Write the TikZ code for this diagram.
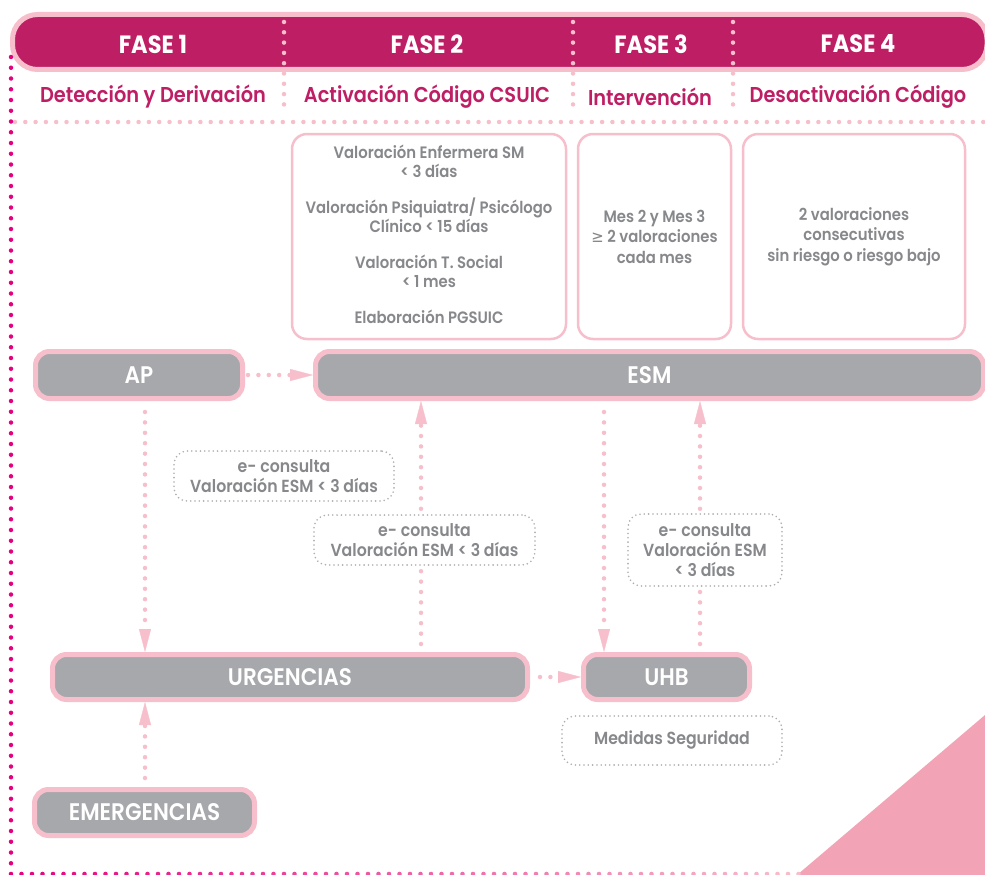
\documentclass[tikz,border=0pt]{standalone}
\usepackage{fontspec}
\setmainfont{Poppins}[UprightFont=* SemiBold, BoldFont=* Bold, FakeStretch=0.9]
\newfontfamily\symfont{DejaVu Sans}[FakeStretch=0.9]
\usetikzlibrary{arrows.meta,calc}

\definecolor{barmag}{HTML}{BE1E64}
\definecolor{rimpink}{HTML}{F6BFCB}
\definecolor{hotmag}{HTML}{E5007E}
\definecolor{bargray}{HTML}{A7A8AC}
\definecolor{txtgray}{HTML}{87888B}
\definecolor{dotgray}{HTML}{AEAEB0}
\definecolor{cornerpink}{HTML}{F2A3B5}

\tikzset{
  graybar/.style={rectangle, rounded corners=14pt, fill=bargray, draw=rimpink,
    line width=5pt, inner sep=0pt, text=white,
    font=\fontsize{24}{24}\selectfont},
  infobox/.style={rectangle, rounded corners=15pt, draw=rimpink, fill=white,
    line width=2.5pt, inner sep=0pt, text=txtgray, align=center,
    font=\fontsize{16.5}{18.5}\selectfont},
  notebox/.style={rectangle, rounded corners=13pt, draw=dotgray, fill=white,
    line width=1.8pt, line cap=round, dash pattern=on 0pt off 4.3pt,
    inner sep=0pt, text=txtgray, align=center,
    font=\fontsize{17.5}{20}\selectfont},
  phase/.style={text=white, font=\bfseries\fontsize{25}{25}\selectfont},
  subtitle/.style={text=barmag, font=\fontsize{21.5}{21.5}\selectfont},
  flow/.style={draw=rimpink, line width=4.5pt, line cap=round,
    dash pattern=on 0pt off 10.4pt,
    -{Triangle[length=23pt,width=12pt,line width=0.3pt]}},
  pinkdots/.style={draw=rimpink, line width=4.5pt, line cap=round,
    dash pattern=on 0pt off 10.3pt},
}

\begin{document}
\begin{tikzpicture}[x=1pt,y=-1pt]
\useasboundingbox (0,0) rectangle (985,875);

% corner wedge
\fill[cornerpink] (797,875) -- (985,715) -- (985,875) -- cycle;

% header band
\draw[draw=rimpink, fill=barmag, line width=5pt, rounded corners=25pt]
  (12.5,14.5) rectangle (987,69.5);

% column separators and rule under the titles
\foreach \sx in {284,573,733}
  \draw[pinkdots] (\sx,22) -- (\sx,113);
\draw[pinkdots] (15,122) -- (985,122);

% outer frame dots
\draw[draw=hotmag, line width=4.5pt, line cap=round, dash pattern=on 0pt off 10.75pt]
  (11,57) -- (11,868);
\foreach \i in {0,...,75} {
  \pgfmathsetmacro\mixp{100-\i*100/75}
  \fill[hotmag!\mixp!rimpink] (11+\i*10.5,874) circle (2.3pt);
}

% phase headings
\node[phase] (f1) at (153,44) {FASE 1};
\node[phase] (f2) at (427,44) {FASE 2};
\node[phase] (f3) at (651,44) {FASE 3};
\node[phase] (f4) at (858,44) {FASE 4};

\node[subtitle] (s1) at (153,97) {Detección y Derivación};
\node[subtitle] (s2) at (427,97) {Activación Código CSUIC};
\node[subtitle] (s3) at (650,97) {Intervención};
\node[subtitle] (s4) at (858,97) {Desactivación Código};

% phase detail boxes
\node[infobox, minimum width=274pt, minimum height=205pt] (boxa) at (429,236.5) {};
\node[text=txtgray, align=center, font=\fontsize{16.5}{18.5}\selectfont] (boxatext) at (429,234.5)
  {Valoración Enfermera SM\\ \textless{} 3 días\\[18pt]
   Valoración Psiquiatra/ Psicólogo\\ Clínico \textless{} 15 días\\[18pt]
   Valoración T. Social\\ \textless{} 1 mes\\[18pt]
   Elaboración PGSUIC};
\node[infobox, minimum width=153pt, minimum height=205pt, font=\fontsize{16.5}{20.5}\selectfont]
  (boxb) at (654.5,236.5)
  {Mes 2 y Mes 3\\ {\symfont ≥} 2 valoraciones\\ cada mes};
\node[infobox, minimum width=222pt, minimum height=205pt, font=\fontsize{16.5}{20.5}\selectfont]
  (boxc) at (854,236.5)
  {2 valoraciones\\ consecutivas\\ sin riesgo o riesgo bajo};

% services
\node[graybar, minimum width=207pt, minimum height=47pt] (ap) at (139,375) {AP};
\node[graybar, minimum width=668pt, minimum height=47pt] (esm) at (649.5,375) {ESM};
\node[graybar, minimum width=475pt, minimum height=45pt] (urg) at (290,677) {URGENCIAS};
\node[graybar, minimum width=166pt, minimum height=45pt] (uhb) at (666.5,677) {UHB};
\node[graybar, minimum width=220pt, minimum height=46pt] (emerg) at (144.5,812.5) {EMERGENCIAS};

% connector anchors
\coordinate (c1) at ([xshift=6pt]ap.south);
\coordinate (c2) at ([xshift=131pt]urg.north);
\coordinate (c3) at ([xshift=-62.5pt]uhb.north);
\coordinate (c4) at ([xshift=33.5pt]uhb.north);
\coordinate (c5) at ([xshift=0.5pt]emerg.north);

% connectors
\draw[flow, shorten <=3pt] (ap.east) -- (esm.west);
\draw[flow, shorten <=11pt] (c1) -- (c1 |- urg.north);
\draw[flow, shorten <=8pt] (c2) -- (c2 |- esm.south);
\draw[flow, shorten <=11pt] (c3 |- esm.south) -- (c3);
\draw[flow, shorten <=8pt] (c4) -- (c4 |- esm.south);
\draw[flow, shorten <=10pt] (urg.east) -- (uhb.west);
\draw[flow, shorten <=9pt] (c5) -- (c5 |- urg.south);

% consultation notes
\node[notebox, minimum width=220pt, minimum height=50pt] (ec1) at (284,476)
  {e- consulta\\ Valoración ESM \textless{} 3 días};
\node[notebox, minimum width=221pt, minimum height=50pt] (ec2) at (424.5,540)
  {e- consulta\\ Valoración ESM \textless{} 3 días};
\node[notebox, minimum width=154pt, minimum height=72pt] (ec3) at (705,550)
  {e- consulta\\ Valoración ESM\\ \textless{} 3 días};
\node[notebox, minimum width=220pt, minimum height=49pt] (med) at (672,740.5)
  {Medidas Seguridad};
\end{tikzpicture}
\end{document}
